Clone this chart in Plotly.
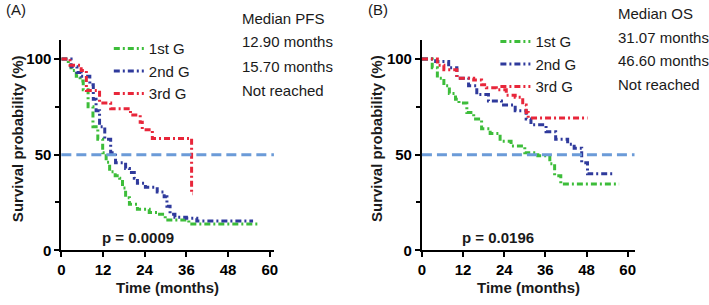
import plotly.graph_objects as go

# ---------------- data ----------------
groups = ["1st G", "2nd G", "3rd G"]

# Panel A: progression-free survival (months, %)
pfs_t_1 = [0, 2, 2.8, 4.3, 5.4, 6.3, 7.7, 9.1, 10.5, 11.9, 12.9, 13.9, 15.5, 16.8, 17.6, 18.5, 19.6, 21.9, 25.3, 27.6, 29.9, 33.3, 36.7, 57]
pfs_s_1 = [100, 96.7, 94, 91, 88.5, 84, 75, 64.6, 58, 51, 46, 41, 39, 37.7, 32.6, 27.5, 24, 21.4, 19.8, 18.8, 15.8, 15.8, 13.7, 13.7]
pfs_t_2 = [0, 2.8, 4.5, 5.7, 8.2, 9.2, 10, 11, 12.5, 14.2, 15.6, 18.5, 19.6, 21, 21.9, 24.2, 27.6, 29.6, 30.4, 31.3, 32.7, 36, 39, 55.2]
pfs_s_2 = [100, 96, 93, 91, 86.5, 79, 73, 64.6, 58, 51, 45.8, 42.7, 40.7, 37.7, 35, 33, 30.5, 28, 23, 18.8, 17.3, 16.8, 15.3, 15.3]
pfs_t_3 = [0, 2.5, 5.7, 7.2, 11, 14.2, 19.9, 22.7, 23.3, 26.2, 37.5, 37.9]
pfs_s_3 = [100, 96.7, 94, 83.5, 77, 74, 70.7, 67, 63, 58.5, 29.5, 29.5]

# Panel B: overall survival (months, %)
os_t_1 = [0, 3, 4.5, 6.4, 8, 9.8, 10.8, 13.1, 15.1, 17.4, 19.9, 22.8, 26, 30, 33.8, 37.3, 38.7, 40.5, 57.5]
os_s_1 = [100, 95.4, 90, 86, 82, 79, 77, 72, 68.7, 63.6, 61, 57, 54.5, 51, 49.4, 45.3, 39, 34.6, 34.6]
os_t_2 = [0, 4, 7.8, 10.2, 13.6, 16, 19.4, 23.2, 27.2, 30.4, 31.8, 36.2, 39, 42.5, 44.4, 46.6, 48.3, 55.5]
os_s_2 = [100, 98.7, 95.4, 90, 86, 81.4, 78, 76, 73, 68.7, 65.6, 62, 58, 55.5, 53.4, 45.8, 40, 40]
os_t_3 = [0, 4.5, 6.4, 10.2, 15.1, 17.4, 18.8, 21.7, 24.6, 27.2, 29.4, 30.4, 31, 48.3]
os_s_3 = [100, 96.7, 94.4, 90, 89, 86.5, 85, 84, 81, 80, 76, 72, 69.2, 69.2]

pfs_medians = ["12.90 months", "15.70 months", "Not reached"]
os_medians = ["31.07 months", "46.60 months", "Not reached"]
p_values = ["p = 0.0009", "p = 0.0196"]
x_ticks = [0, 12, 24, 36, 48, 60]
y_ticks = [0, 50, 100]

# ---------------- style ----------------
colors = ["#3dbd3a", "#2f3a9c", "#e8263a"]
ref_color = "#6b9bd8"
FONT = "Arial, Liberation Sans, sans-serif"
curve_dash = "6px,3px,2px,3px"

fig = go.Figure()

panels = [
    ([pfs_t_1, pfs_t_2, pfs_t_3], [pfs_s_1, pfs_s_2, pfs_s_3], "x", "y", "legend"),
    ([os_t_1, os_t_2, os_t_3], [os_s_1, os_s_2, os_s_3], "x2", "y2", "legend2"),
]
for ts, ss, xa, ya, lg in panels:
    for i, (t, s) in enumerate(zip(ts, ss)):
        fig.add_trace(go.Scatter(
            x=t, y=s, mode="lines", line_shape="hv",
            line=dict(color=colors[i], width=3, dash=curve_dash),
            name=groups[i], xaxis=xa, yaxis=ya, legend=lg,
            showlegend=True, hoverinfo="skip",
        ))

axis_common = dict(
    showline=True, linecolor="black", linewidth=2,
    ticks="outside", ticklen=5, tickwidth=2, tickcolor="black",
    showgrid=False, zeroline=False,
    tickfont=dict(family=FONT, size=15, color="black", weight="bold"),
)

fig.update_layout(
    width=709, height=305,
    margin=dict(l=0, r=0, t=0, b=0),
    paper_bgcolor="white", plot_bgcolor="white",
    font=dict(family=FONT, size=15, color="#1a1a1a"),
    xaxis=dict(domain=[58 / 709, 273 / 709], range=[0, 61.2], tickvals=x_ticks, anchor="y", **axis_common),
    yaxis=dict(domain=[48 / 305, 264 / 305], range=[0, 110], tickvals=y_ticks, anchor="x",
               minor=dict(tickvals=[25, 75], ticks="outside", ticklen=4, tickwidth=2, tickcolor="black"),
               **axis_common),
    xaxis2=dict(domain=[422.7 / 709, 637.7 / 709], range=[0, 62.0], tickvals=x_ticks, anchor="y2", **axis_common),
    yaxis2=dict(domain=[48 / 305, 264 / 305], range=[0, 110], tickvals=y_ticks, anchor="x2",
                minor=dict(tickvals=[25, 75], ticks="outside", ticklen=4, tickwidth=2, tickcolor="black"),
                **axis_common),
    legend=dict(x=106 / 709, y=1 - 33 / 305, xanchor="left", yanchor="top",
                bgcolor="rgba(0,0,0,0)", font=dict(family=FONT, size=15, color="#1a1a1a"),
                tracegroupgap=0, itemwidth=30),
    legend2=dict(x=497 / 709, y=1 - 26 / 305, xanchor="left", yanchor="top",
                 bgcolor="rgba(0,0,0,0)", font=dict(family=FONT, size=15, color="#1a1a1a"),
                 tracegroupgap=0, itemwidth=30),
)

# 50% reference lines
for xr, yr in [("x domain", "y"), ("x2 domain", "y2")]:
    fig.add_shape(type="line", xref=xr, yref=yr, x0=0, x1=1, y0=50, y1=50,
                  line=dict(color=ref_color, width=3, dash="10px,5px"), layer="above")

ann = []
def txt(x, y, s, size=15, bold=False, xanchor="left", angle=0):
    ann.append(dict(x=x / 709, y=1 - y / 305, xref="paper", yref="paper", text=s,
                    showarrow=False, xanchor=xanchor, yanchor="middle", textangle=angle,
                    font=dict(family=FONT, size=size, color="#1a1a1a", weight="bold" if bold else "normal")))

# panel labels
txt(0, 10, "(A)")
txt(366, 10, "(B)")
# median blocks
txt(239, 19, "Median PFS")
for k, m in enumerate(pfs_medians):
    txt(239, 43 + k * 25, m)
txt(619, 14, "Median OS")
for k, m in enumerate(os_medians):
    txt(619, 38 + k * 24.5, m)
# p-values
txt(136, 244, p_values[0], bold=True, xanchor="center")
txt(500, 244, p_values[1], bold=True, xanchor="center")
# axis titles
txt(165.5, 295, "Time (months)", bold=True, xanchor="center")
txt(530, 295, "Time (months)", bold=True, xanchor="center")
txt(13, 142, "Survival probability (%)", bold=True, xanchor="center", angle=-90)
txt(377, 142, "Survival probability (%)", bold=True, xanchor="center", angle=-90)

fig.update_layout(annotations=ann)
fig.write_html("out.html")
